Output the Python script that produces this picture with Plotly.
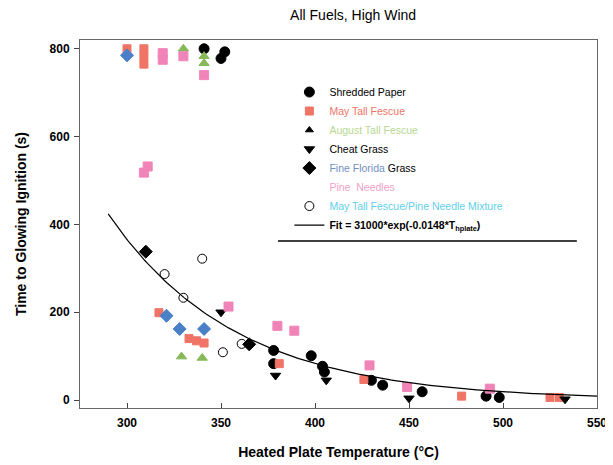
import numpy as np
import plotly.graph_objects as go

# ---- data ----
paper_T = [341, 350, 352, 378, 378, 398, 404, 405, 430, 436, 457, 491, 498]
paper_t = [800, 778, 793, 113, 83, 101, 77, 64, 45, 34, 19, 9, 6]

may_T = [300, 309, 309, 309, 317, 333, 337, 341, 381, 426, 478, 525, 530]
may_t = [800, 800, 783, 765, 199, 140, 135, 130, 83, 47, 9, 6, 6]

aug_T = [330, 341, 341, 329, 340]
aug_t = [800, 783, 767, 99, 96]

cheat_T = [350, 379, 406, 450, 533]
cheat_t = [200, 56, 45, 4, 2]

florida_blue_T = [300, 321, 328, 341]
florida_blue_t = [785, 192, 162, 162]
florida_black_T = [310, 365]
florida_black_t = [338, 127]

pine_T = [319, 319, 330, 341, 311, 309, 354, 380, 389, 429, 449, 493]
pine_t = [790, 775, 783, 740, 532, 518, 213, 169, 158, 79, 30, 26]

mix_T = [320, 330, 340, 351, 361]
mix_t = [287, 233, 322, 109, 128]

fit_A = 31000
fit_k = 0.0148
fit_T = np.linspace(290, 550, 200)
fit_t = fit_A * np.exp(-fit_k * fit_T)

x_ticks = [300, 350, 400, 450, 500, 550]
y_ticks = [0, 200, 400, 600, 800]

SALMON = "#f07466"
PINK = "#f084b8"
GREEN = "#86b85a"
BLUE = "#4a80c8"

fig = go.Figure()

def sc(x, y, name, symbol, color, legend=True, line_color=None, size=9, group=None):
    fig.add_trace(go.Scatter(
        x=x, y=y, mode="markers", name=name, showlegend=legend,
        legendgroup=group,
        marker=dict(symbol=symbol, color=color, size=size,
                    line=dict(color=line_color or color, width=1)),
    ))

sc(paper_T, paper_t, "Shredded Paper", "circle", "black", size=10)
sc(may_T, may_t, "<span style='color:#f07466'>May Tall Fescue</span>", "square", SALMON, size=8)
sc(aug_T, aug_t, "aug", "triangle-up", GREEN, legend=False, group="aug")
sc([None], [None], "<span style='color:#b8d890'>August Tall Fescue</span>", "triangle-up", "black", group="aug", size=7)
sc(cheat_T, cheat_t, "Cheat Grass", "triangle-down", "black", size=9)
sc(florida_blue_T, florida_blue_t, "fl", "diamond", BLUE, legend=False, group="fl", size=10)
sc(florida_black_T, florida_black_t, "<span style='color:#7090c0'>Fine Florida</span> Grass", "diamond", "black", group="fl", size=10)
sc(pine_T, pine_t, "pine", "square", PINK, legend=False, group="pine")
sc([None], [None], "<span style='color:#f0a0c8'>Pine  Needles</span>", "square", "rgba(255,255,255,0)", group="pine")
sc(mix_T, mix_t, "<span style='color:#60d0e8'>May Tall Fescue/Pine Needle Mixture</span>", "circle-open", "black", size=9)

fig.add_trace(go.Scatter(
    x=fit_T, y=fit_t, mode="lines", line=dict(color="black", width=1.2),
    name="<b>Fit = 31000*exp(-0.0148*T<sub>hplate</sub>)</b>",
))

fig.add_shape(type="line", xref="paper", yref="paper",
              x0=0.383, x1=0.961, y0=0.454, y1=0.454,
              line=dict(color="black", width=1.5))

fig.update_layout(
    width=613, height=465,
    margin=dict(l=72, r=24, t=32, b=65),
    paper_bgcolor="white", plot_bgcolor="white",
    font=dict(family="Arial, Liberation Sans, sans-serif", color="black", size=12),
    title=dict(text="All Fuels, High Wind", x=0.563, xanchor="center",
               y=0.985, yanchor="middle", font=dict(size=14)),
    legend=dict(x=0.405, y=0.898, xanchor="left", yanchor="top",
                bgcolor="rgba(0,0,0,0)", font=dict(size=10.5),
                tracegroupgap=0, itemsizing="trace", itemwidth=30),
    xaxis=dict(range=[275, 550], tickvals=x_ticks, showgrid=False, zeroline=False,
               automargin=False,
               showline=True, linecolor="#666", linewidth=1, mirror=True,
               ticks="inside", ticklen=5, tickcolor="#444", ticklabelstandoff=4,
               tickfont=dict(size=12, weight="bold"),
               title=dict(text="<b>Heated Plate Temperature (°C)</b>",
                          font=dict(size=14), standoff=17)),
    yaxis=dict(range=[-18, 820], tickvals=y_ticks, showgrid=False, zeroline=False,
               automargin=False,
               showline=True, linecolor="#666", linewidth=1, mirror=True,
               ticks="outside", ticklen=5, tickcolor="#444", ticklabelstandoff=2,
               tickfont=dict(size=12, weight="bold"),
               title=dict(text="<b>Time to Glowing Ignition (s)</b>",
                          font=dict(size=14), standoff=19)),
)

fig.write_html("out.html")
